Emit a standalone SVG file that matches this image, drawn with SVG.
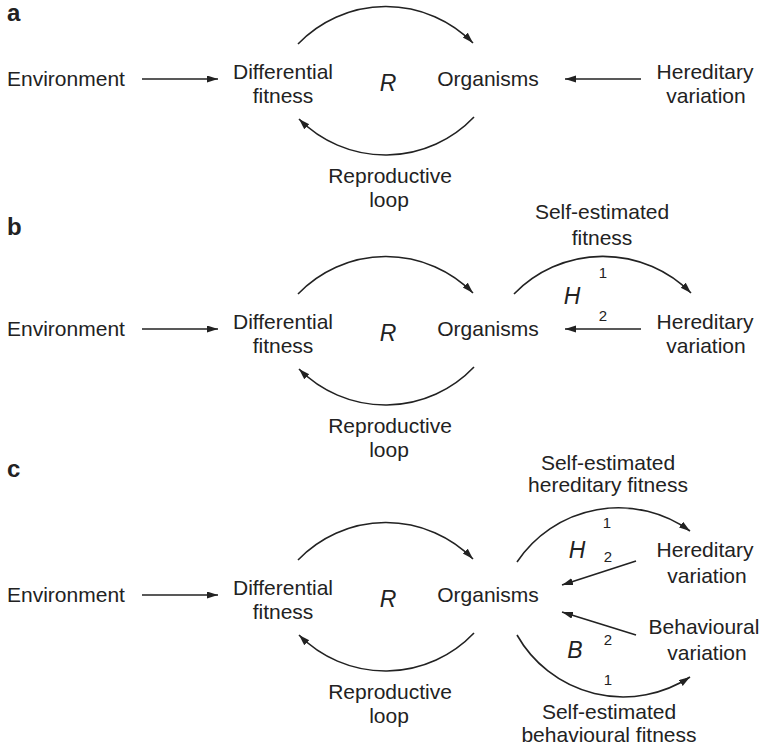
<svg xmlns="http://www.w3.org/2000/svg" width="763" height="749" viewBox="0 0 763 749">
<defs>
<marker id="ah" markerUnits="userSpaceOnUse" markerWidth="12" markerHeight="8" refX="11" refY="3.5" orient="auto">
<path d="M0,0 L11,3.5 L0,7 Z" fill="#222"/>
</marker>
<style>
text{font-family:"Liberation Sans",Arial,sans-serif;font-size:21px;fill:#222}
.m{text-anchor:middle}
.lab{font-weight:bold;font-size:24px}
.it{font-style:italic;font-size:23px;text-anchor:middle}
.n{font-size:15px;text-anchor:middle}
.c path,.c line{fill:none;stroke:#222;stroke-width:1.6;marker-end:url(#ah)}
</style>
</defs>
<rect width="763" height="749" fill="#fff"/>

<g id="panel-labels">
<text class="lab" x="7" y="21">a</text>
<text class="lab" x="7" y="235">b</text>
<text class="lab" x="7" y="477">c</text>
</g>

<g id="connectors" class="c">
<!-- panel a -->
<line x1="142" y1="79" x2="218" y2="79"/>
<line x1="641" y1="79" x2="565" y2="79"/>
<path d="M298,44 A122,122 0 0 1 473,43"/>
<path d="M474,117 A122,122 0 0 1 299,119"/>
<!-- panel b -->
<line x1="142" y1="329" x2="218" y2="329"/>
<line x1="641" y1="329" x2="565" y2="329"/>
<path d="M298,294 A122,122 0 0 1 473,293"/>
<path d="M474,367 A122,122 0 0 1 299,369"/>
<path d="M514,294 A124,124 0 0 1 691,293"/>
<!-- panel c -->
<line x1="142" y1="595" x2="218" y2="595"/>
<path d="M298,560 A122,122 0 0 1 473,559"/>
<path d="M474,633 A122,122 0 0 1 299,635"/>
<path d="M517,562 A122,122 0 0 1 690,531"/>
<line x1="636" y1="561" x2="562" y2="585"/>
<line x1="636" y1="635" x2="562" y2="612"/>
<path d="M517,635 A122,122 0 0 0 690,677"/>
</g>

<!-- panel a nodes -->
<g id="a-environment"><text x="7" y="86">Environment</text></g>
<g id="a-differential-fitness"><text class="m" x="283" y="79">Differential</text><text class="m" x="283" y="103">fitness</text></g>
<g id="a-R"><text class="it" x="388" y="91">R</text></g>
<g id="a-organisms"><text class="m" x="488" y="86">Organisms</text></g>
<g id="a-hereditary-variation"><text class="m" x="705" y="79">Hereditary</text><text class="m" x="706" y="103">variation</text></g>
<g id="a-reproductive-loop"><text class="m" x="390" y="183">Reproductive</text><text class="m" x="389" y="207">loop</text></g>

<!-- panel b nodes -->
<g id="b-environment"><text x="7" y="336">Environment</text></g>
<g id="b-differential-fitness"><text class="m" x="283" y="329">Differential</text><text class="m" x="283" y="353">fitness</text></g>
<g id="b-R"><text class="it" x="388" y="341">R</text></g>
<g id="b-organisms"><text class="m" x="488" y="336">Organisms</text></g>
<g id="b-hereditary-variation"><text class="m" x="705" y="329">Hereditary</text><text class="m" x="706" y="353">variation</text></g>
<g id="b-reproductive-loop"><text class="m" x="390" y="433">Reproductive</text><text class="m" x="389" y="457">loop</text></g>
<g id="b-self-estimated-fitness"><text class="m" x="602" y="219">Self-estimated</text><text class="m" x="602" y="245">fitness</text></g>
<g id="b-H"><text class="it" x="572" y="304">H</text><text class="n" x="603" y="278">1</text><text class="n" x="603" y="321">2</text></g>

<!-- panel c nodes -->
<g id="c-environment"><text x="7" y="602">Environment</text></g>
<g id="c-differential-fitness"><text class="m" x="283" y="595">Differential</text><text class="m" x="283" y="619">fitness</text></g>
<g id="c-R"><text class="it" x="388" y="607">R</text></g>
<g id="c-organisms"><text class="m" x="488" y="602">Organisms</text></g>
<g id="c-reproductive-loop"><text class="m" x="390" y="699">Reproductive</text><text class="m" x="389" y="723">loop</text></g>
<g id="c-self-estimated-hereditary-fitness"><text class="m" x="608" y="470">Self-estimated</text><text class="m" x="608" y="492">hereditary fitness</text></g>
<g id="c-H"><text class="it" x="577" y="558">H</text><text class="n" x="607" y="528">1</text><text class="n" x="608" y="562">2</text></g>
<g id="c-hereditary-variation"><text class="m" x="705" y="557">Hereditary</text><text class="m" x="707" y="583">variation</text></g>
<g id="c-behavioural-variation"><text class="m" x="704" y="634">Behavioural</text><text class="m" x="707" y="660">variation</text></g>
<g id="c-B"><text class="it" x="575" y="658">B</text><text class="n" x="608" y="645">2</text><text class="n" x="608" y="685">1</text></g>
<g id="c-self-estimated-behavioural-fitness"><text class="m" x="609" y="719">Self-estimated</text><text class="m" x="609" y="742">behavioural fitness</text></g>
</svg>
